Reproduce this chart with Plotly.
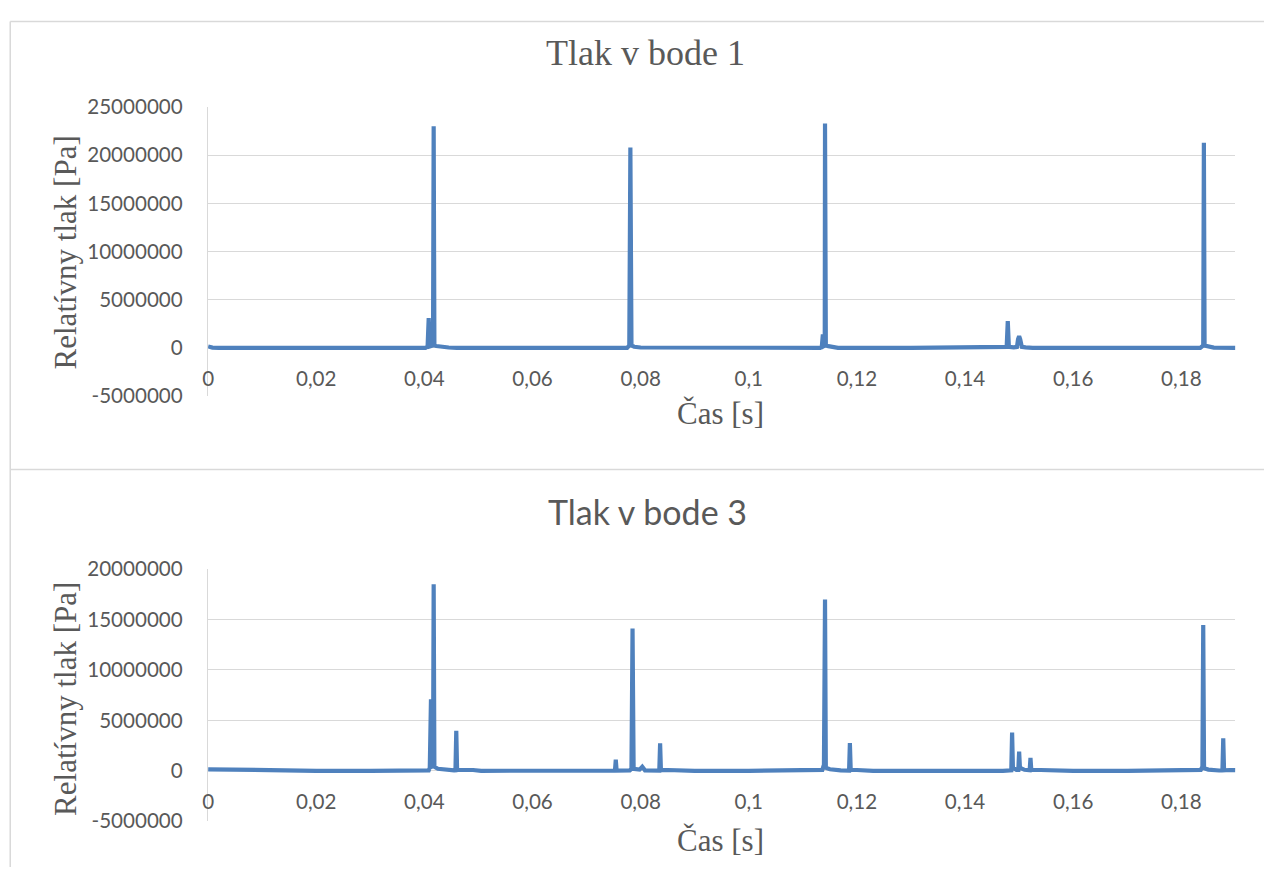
import plotly.graph_objects as go

# ---------------- DATA ----------------
# Chart 1: "Tlak v bode 1"
p1_time = [0, 0.0008, 0.002, 0.006, 0.012, 0.02, 0.03, 0.038, 0.0402, 0.0406, 0.0408, 0.0410,
           0.0414, 0.0416, 0.04172, 0.04185, 0.0422, 0.0430, 0.0445, 0.046, 0.06, 0.0775,
           0.0779, 0.0781, 0.0783, 0.0788, 0.080, 0.095, 0.1132, 0.1135, 0.1137, 0.1139,
           0.11405, 0.1141, 0.11425, 0.1147, 0.1155, 0.1165, 0.13, 0.1472, 0.1477, 0.1479,
           0.1481, 0.1490, 0.1496, 0.1498, 0.1500, 0.1502, 0.1505, 0.1512, 0.1525, 0.165,
           0.1835, 0.18405, 0.18417, 0.1843, 0.1850, 0.1860, 0.19]
p1_value = [150000, 30000, 0, 0, 0, 0, 0, 0, 0, 150000, 3100000, 150000,
            200000, 250000, 23000000, 250000, 200000, 120000, 40000, 0, 0, 0,
            250000, 20800000, 250000, 120000, 40000, 0, 0, 100000, 1400000, 200000,
            250000, 23300000, 250000, 180000, 100000, 0, 0, 0, 100000, 2780000,
            100000, 50000, 100000, 900000, 1220000, 900000, 100000, 50000, 0, 0,
            0, 250000, 21300000, 250000, 120000, 30000, 0]

# Chart 2: "Tlak v bode 3"
p3_time = [0, 0.004, 0.008, 0.012, 0.02, 0.03, 0.038, 0.0408, 0.0410, 0.04122, 0.04135,
           0.04160, 0.04172, 0.04185, 0.0425, 0.0440, 0.0455, 0.04575, 0.0459, 0.04605,
           0.0470, 0.0490, 0.0505, 0.060, 0.068, 0.070, 0.0750, 0.07525, 0.0754, 0.07555,
           0.0780, 0.0783, 0.0785, 0.0787, 0.0798, 0.0803, 0.0808, 0.0833, 0.08345, 0.0836,
           0.08375, 0.0850, 0.0880, 0.090, 0.100, 0.110, 0.1136, 0.1139, 0.1141, 0.11425,
           0.1150, 0.1170, 0.11855, 0.1187, 0.11885, 0.1200, 0.1230, 0.135, 0.141, 0.1415,
           0.1470, 0.14855, 0.1487, 0.14885, 0.1495, 0.14985, 0.1500, 0.15015, 0.1510,
           0.15195, 0.1521, 0.15225, 0.1540, 0.1560, 0.1600, 0.170, 0.180, 0.1836, 0.1839,
           0.18405, 0.1842, 0.1850, 0.1870, 0.1876, 0.18775, 0.1879, 0.1890, 0.19]
p3_value = [150000, 110000, 30000, 0, 0, 0, 0, 50000, 300000, 7100000, 400000,
            450000, 18500000, 400000, 200000, 80000, 50000, 60000, 3980000, 80000,
            100000, 80000, 0, 0, 20000, 0, 0, 30000, 1100000, 30000,
            50000, 200000, 14100000, 200000, 120000, 400000, 50000, 0, 30000, 2720000,
            60000, 80000, 30000, 0, 0, 0, 100000, 600000, 17000000, 300000,
            150000, 40000, 30000, 2760000, 80000, 80000, 0, 0, 60000, 0,
            0, 50000, 3800000, 300000, 100000, 100000, 1900000, 300000, 100000,
            50000, 1280000, 80000, 80000, 30000, 0, 0, 0, 100000, 400000,
            14450000, 250000, 120000, 30000, 30000, 3220000, 50000, 80000, 60000]

x_tick_vals = [0, 0.02, 0.04, 0.06, 0.08, 0.1, 0.12, 0.14, 0.16, 0.18]
x_tick_text = ["0", "0,02", "0,04", "0,06", "0,08", "0,1", "0,12", "0,14", "0,16", "0,18"]
y1_tick_vals = [-5000000, 0, 5000000, 10000000, 15000000, 20000000, 25000000]
y1_tick_text = ["-5000000", "0", "5000000", "10000000", "15000000", "20000000", "25000000"]
y3_tick_vals = [-5000000, 0, 5000000, 10000000, 15000000, 20000000]
y3_tick_text = ["-5000000", "0", "5000000", "10000000", "15000000", "20000000"]

title1 = "Tlak v bode 1"
title3 = "Tlak v bode 3"
x_title = "Čas [s]"
y_title = "Relatívny tlak [Pa]"

# ---------------- LAYOUT ----------------
OFF = 8
W, H = 1272 - 2 * OFF, 886 - 2 * OFF
# screen position of the reference -> page position (empirical capture mapping)
SX, BX = 0.9959, 4.8
SY, BY = 0.9736, 11.7
def fx(X):
    xp = (X - BX) / SX
    return (xp - OFF) / W
def fy(Y):
    yp = (Y - BY) / SY
    return min(1 - 0.6 / H, 1 - (yp - OFF) / H)

LINE = "#4F81BD"
GRID = "#d9d9d9"
TXT = "#595959"
SERIF = "Liberation Serif"
SANS = "Lato"

fig = go.Figure()
fig.add_trace(go.Scatter(x=p1_time, y=p1_value, mode="lines", xaxis="x", yaxis="y",
                         line=dict(color=LINE, width=4.2), showlegend=False, hoverinfo="skip"))
fig.add_trace(go.Scatter(x=p3_time, y=p3_value, mode="lines", xaxis="x2", yaxis="y2",
                         line=dict(color=LINE, width=4.2), showlegend=False, hoverinfo="skip"))

xdom = [fx(207), fx(1235)]
y1_top, y1_bot = 105.7, 395.0
y3_top, y3_bot = 568.3, 820.7
y1_zero = y1_bot - (y1_bot - y1_top) * 5 / 30
y3_zero = y3_bot - (y3_bot - y3_top) * 5 / 25

xcommon = dict(range=[0, 0.19], showgrid=False, zeroline=False, showline=False,
               ticks="outside", ticklen=12, tickcolor="rgba(0,0,0,0)",
               tickvals=x_tick_vals, ticktext=x_tick_text,
               tickfont=dict(family=SANS, size=20.6, color=TXT), domain=xdom, anchor="free")
ycommon = dict(showgrid=True, gridcolor=GRID, gridwidth=1.4, zeroline=False,
               showline=True, linecolor=GRID, linewidth=1.4,
               ticks="outside", ticklen=20, tickcolor="rgba(0,0,0,0)",
               tickfont=dict(family=SANS, size=20.6, color=TXT))

fig.update_layout(
    width=W, height=H, margin=dict(l=0, r=0, t=0, b=0),
    paper_bgcolor="white", plot_bgcolor="white", showlegend=False,
    xaxis=dict(**xcommon, position=fy(y1_zero)),
    xaxis2=dict(**xcommon, position=fy(y3_zero)),
    yaxis=dict(**ycommon, range=[-5000000, 25000000], tickvals=y1_tick_vals,
               ticktext=y1_tick_text, domain=[fy(y1_bot), fy(y1_top)], anchor="x"),
    yaxis2=dict(**ycommon, range=[-5000000, 20000000], tickvals=y3_tick_vals,
                ticktext=y3_tick_text, domain=[fy(y3_bot), fy(y3_top)], anchor="x2"),
)

ann = [
    dict(text=title1, x=fx(645), y=fy(51.5), font=dict(family=SERIF, size=36, color=TXT)),
    dict(text=title3, x=fx(647), y=fy(511), font=dict(family=SANS, size=34, color=TXT)),
    dict(text=x_title, x=fx(720), y=fy(412.5), font=dict(family=SERIF, size=31, color=TXT)),
    dict(text=x_title, x=fx(720), y=fy(840), font=dict(family=SERIF, size=31, color=TXT)),
    dict(text=y_title, x=fx(64), y=fy(251), textangle=-90, font=dict(family=SERIF, size=31, color=TXT)),
    dict(text=y_title, x=fx(64), y=fy(698), textangle=-90, font=dict(family=SERIF, size=31, color=TXT)),
]
for a in ann:
    a.update(xref="paper", yref="paper", xanchor="center", yanchor="middle", showarrow=False)
fig.update_layout(annotations=ann)

frame = dict(type="line", xref="paper", yref="paper", line=dict(color=GRID, width=1.5))
fig.update_layout(shapes=[
    dict(frame, x0=fx(9), x1=1, y0=fy(8.5), y1=fy(8.5)),
    dict(frame, x0=fx(9), x1=fx(9), y0=fy(8.5), y1=0),
    dict(frame, x0=fx(9), x1=1, y0=fy(468.5), y1=fy(468.5)),
])

fig.write_html("out.html", config={"displayModeBar": False})
